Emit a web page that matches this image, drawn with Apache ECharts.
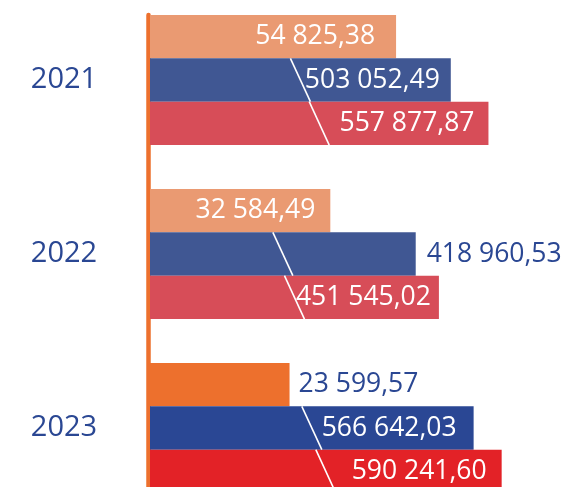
<!DOCTYPE html>
<html><head><meta charset="utf-8">
<script src="https://cdn.jsdelivr.net/npm/echarts@6/dist/echarts.min.js"></script>
<style>html,body{margin:0;padding:0;background:#fff}#c{width:563px;height:487px}</style>
</head><body><div id="c"></div>
<script>
// ---- data ----
const categories = ['2021', '2022', '2023'];
const orangeValues = [54825.38, 32584.49, 23599.57];
const blueValues = [503052.49, 418960.53, 566642.03];
const redValues = [557877.87, 451545.02, 590241.60];

// ---- styles ----
const orangeColors = ['#EA9A72', '#EA9A72', '#ED702D'];
const blueColors = ['#405793', '#405793', '#2A4794'];
const redColors = ['#D74D58', '#D74D58', '#E32227'];
const orangeLabelOutside = [false, false, true];
const blueLabelOutside = [false, true, false];
const redLabelOutside = [false, false, false];
const orangeLabelGap = [21, 15, 9];
const blueLabelGap = [11, 11, 17];
const redLabelGap = [14, 8, 15];

const FONT = 'Open Sans';
const BAR = 43.4;
const TEXT_BLUE = '#2A4793';

function fmt(v) {
  const p = v.toFixed(2).split('.');
  return p[0].replace(/\B(?=(\d{3})+(?!\d))/g, ' ') + ',' + p[1];
}
function items(vals, colors, outside, gaps) {
  return vals.map((v, i) => ({
    value: v,
    itemStyle: { color: colors[i] },
    label: {
      position: outside[i] ? 'right' : 'insideRight',
      color: outside[i] ? TEXT_BLUE : '#ffffff',
      distance: gaps[i]
    }
  }));
}
function barSeries(vals, colors, outside, gaps, axis) {
  return {
    type: 'bar', xAxisIndex: axis, yAxisIndex: 0,
    barWidth: BAR, barGap: '0%', clip: true, z: 2,
    data: items(vals, colors, outside, gaps),
    label: { show: true, fontFamily: FONT, fontSize: 26.5, formatter: p => fmt(p.value) }
  };
}
function slashSeries(vals, axis, shift) {
  return {
    type: 'custom', xAxisIndex: axis, yAxisIndex: 0, z: 5, silent: true,
    data: vals.map((v, i) => [i, v]),
    encode: { x: 1, y: 0 },
    renderItem: function (params, api) {
      const end = api.coord([api.value(1), api.value(0)]);
      const x0 = params.coordSys.x;
      const mid = (x0 + end[0]) / 2;
      const cy = end[1] + shift;
      return {
        type: 'line',
        shape: { x1: mid - 10, y1: cy - BAR / 2, x2: mid + 10, y2: cy + BAR / 2 },
        style: { stroke: '#ffffff', lineWidth: 1.6 }
      };
    }
  };
}

const chart = echarts.init(document.getElementById('c'), null, { renderer: 'canvas' });
chart.setOption({
  animation: false,
  backgroundColor: '#ffffff',
  grid: [
    { left: 150, right: 13, top: -7, height: 522, containLabel: false, outerBoundsMode: 'none' },
    { left: 148, right: 13, top: 15, bottom: -30, containLabel: false, outerBoundsMode: 'none' }
  ],
  xAxis: [
    { type: 'log', gridIndex: 0, min: 7823, max: 185330, show: false },
    { type: 'log', gridIndex: 0, min: 104810, max: 843900, show: false },
    { type: 'log', gridIndex: 0, min: 131560, max: 725500, show: false },
    { type: 'value', gridIndex: 1, min: 0, max: 1, show: false }
  ],
  yAxis: [
    {
      type: 'category', gridIndex: 0, data: categories, inverse: true,
      axisLine: { show: false }, axisTick: { show: false }, splitLine: { show: false },
      axisLabel: { fontFamily: FONT, fontSize: 29, color: TEXT_BLUE, align: 'center', margin: 86 }
    },
    {
      type: 'value', gridIndex: 1, min: 0, max: 1,
      axisLine: { show: true, onZero: false, lineStyle: { color: '#ED702D', width: 4.5 } },
      axisLabel: { show: false }, axisTick: { show: false }, splitLine: { show: false }
    }
  ],
  series: [
    barSeries(orangeValues, orangeColors, orangeLabelOutside, orangeLabelGap, 0),
    barSeries(blueValues, blueColors, blueLabelOutside, blueLabelGap, 1),
    barSeries(redValues, redColors, redLabelOutside, redLabelGap, 2),
    slashSeries(blueValues, 1, 0),
    slashSeries(redValues, 2, BAR)
  ]
});
</script>
</body></html>
